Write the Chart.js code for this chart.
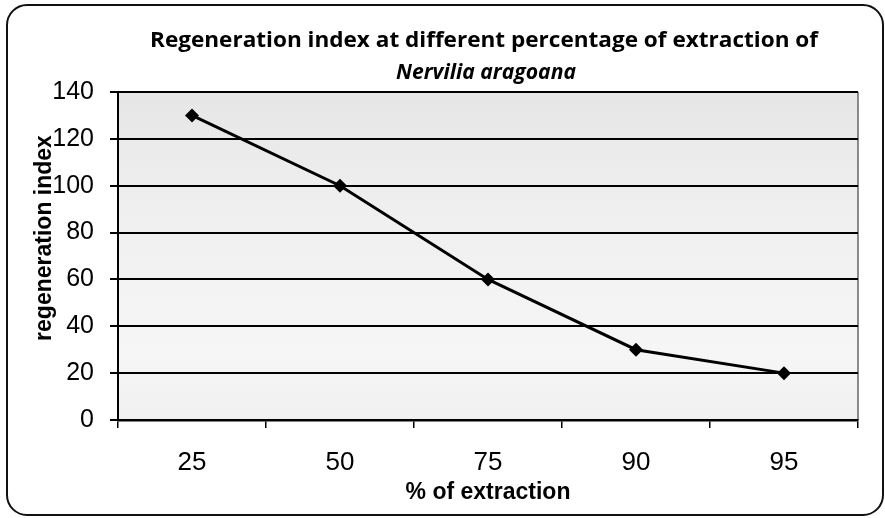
<!DOCTYPE html>
<html>
<head>
<meta charset="utf-8">
<script src="https://cdn.jsdelivr.net/npm/chart.js@4/dist/chart.umd.min.js"></script>
<style>
  html, body { margin: 0; padding: 0; background: #fff; }
  #wrap { position: relative; width: 885px; height: 518px; }
</style>
</head>
<body>
<div id="wrap"><canvas id="myChart" width="885" height="518"></canvas></div>
<script>
// Data
const categories = ['25', '50', '75', '90', '95'];
const regenIndex = [130, 100, 60, 30, 20];
const yMin = 0, yMax = 140, yStep = 20;

const titleLine1 = 'Regeneration index at different percentage of extraction of';
const titleLine2 = 'Nervilia aragoana';
const xTitle = '% of extraction';
const yTitle = 'regeneration index';

// Plot background + outer rounded frame + titles
const decorations = {
    id: 'decorations',
    beforeDraw: (chart) => {
        const { ctx, chartArea: a } = chart;
        ctx.save();
        ctx.fillStyle = '#fff';
        ctx.fillRect(0, 0, chart.width, chart.height);
        const g = ctx.createLinearGradient(0, a.top, 0, a.bottom);
        g.addColorStop(0, '#e6e6e6');
        g.addColorStop(0.35, '#efefef');
        g.addColorStop(0.8, '#f6f6f6');
        g.addColorStop(1, '#f0f0f0');
        ctx.fillStyle = g;
        ctx.fillRect(a.left, a.top, a.right - a.left, a.bottom - a.top);
        // right edge of plot
        ctx.strokeStyle = '#666';
        ctx.lineWidth = 1.5;
        ctx.beginPath();
        ctx.moveTo(a.right, a.top);
        ctx.lineTo(a.right, a.bottom);
        ctx.stroke();
        ctx.restore();
    },
    afterDraw: (chart) => {
        const { ctx, chartArea: a } = chart;
        const cx = (a.left + a.right) / 2;
        ctx.save();
        // frame
        ctx.strokeStyle = '#111';
        ctx.lineWidth = 2;
        ctx.beginPath();
        ctx.roundRect(7, 5, 876, 510, 20);
        ctx.stroke();

        ctx.fillStyle = '#000';
        ctx.textAlign = 'center';
        ctx.textBaseline = 'alphabetic';

        // title line 1, squeezed to the width of the original
        ctx.font = 'bold 22px "Open Sans"';
        let w = ctx.measureText(titleLine1).width;
        let sx = 668 / w;
        ctx.save();
        ctx.translate(cx - 4, 47);
        ctx.scale(sx, 1);
        ctx.fillText(titleLine1, 0, 0);
        ctx.restore();

        // title line 2 italic
        ctx.font = 'italic bold 22px "Open Sans"';
        w = ctx.measureText(titleLine2).width;
        sx = 180 / w;
        ctx.save();
        ctx.translate(cx - 2, 79);
        ctx.scale(sx, 1);
        ctx.fillText(titleLine2, 0, 0);
        ctx.restore();

        // x axis title
        ctx.font = 'bold 23px "Liberation Sans"';
        ctx.fillText(xTitle, cx, 499);

        // y axis title
        ctx.save();
        ctx.translate(51, 238);
        ctx.rotate(-Math.PI / 2);
        ctx.fillText(yTitle, 0, 0);
        ctx.restore();

        ctx.restore();
    }
};

const ctx = document.getElementById('myChart').getContext('2d');
const myChart = new Chart(ctx, {
    type: 'line',
    data: {
        labels: categories,
        datasets: [{
            label: 'regeneration index',
            data: regenIndex,
            borderColor: '#000',
            backgroundColor: '#000',
            borderWidth: 3,
            pointStyle: 'rectRot',
            pointRadius: 7,
            pointBorderWidth: 0,
            tension: 0,
            fill: false
        }]
    },
    options: {
        responsive: false,
        animation: false,
        layout: { padding: { top: 92, right: 27, bottom: 0, left: 0 } },
        plugins: {
            legend: { display: false },
            title: { display: false },
            tooltip: { enabled: false }
        },
        scales: {
            x: {
                offset: true,
                grid: {
                    offset: true,
                    drawOnChartArea: false,
                    drawTicks: true,
                    tickLength: 8,
                    color: '#000',
                    lineWidth: 1.5
                },
                border: { display: true, color: '#000', width: 2.5 },
                ticks: {
                    color: '#000',
                    padding: 19,
                    font: { family: '"Liberation Sans"', size: 26 }
                },
                afterFit: (scale) => { scale.height = 98; }
            },
            y: {
                min: yMin,
                max: yMax,
                grid: {
                    color: '#000',
                    lineWidth: 2,
                    tickLength: 8
                },
                border: { display: true, color: '#000', width: 2 },
                ticks: {
                    stepSize: yStep,
                    color: '#000',
                    padding: 16,
                    font: { family: '"Liberation Sans"', size: 25 }
                },
                afterFit: (scale) => { scale.width = 118; }
            }
        }
    },
    plugins: [decorations]
});
</script>
</body>
</html>
